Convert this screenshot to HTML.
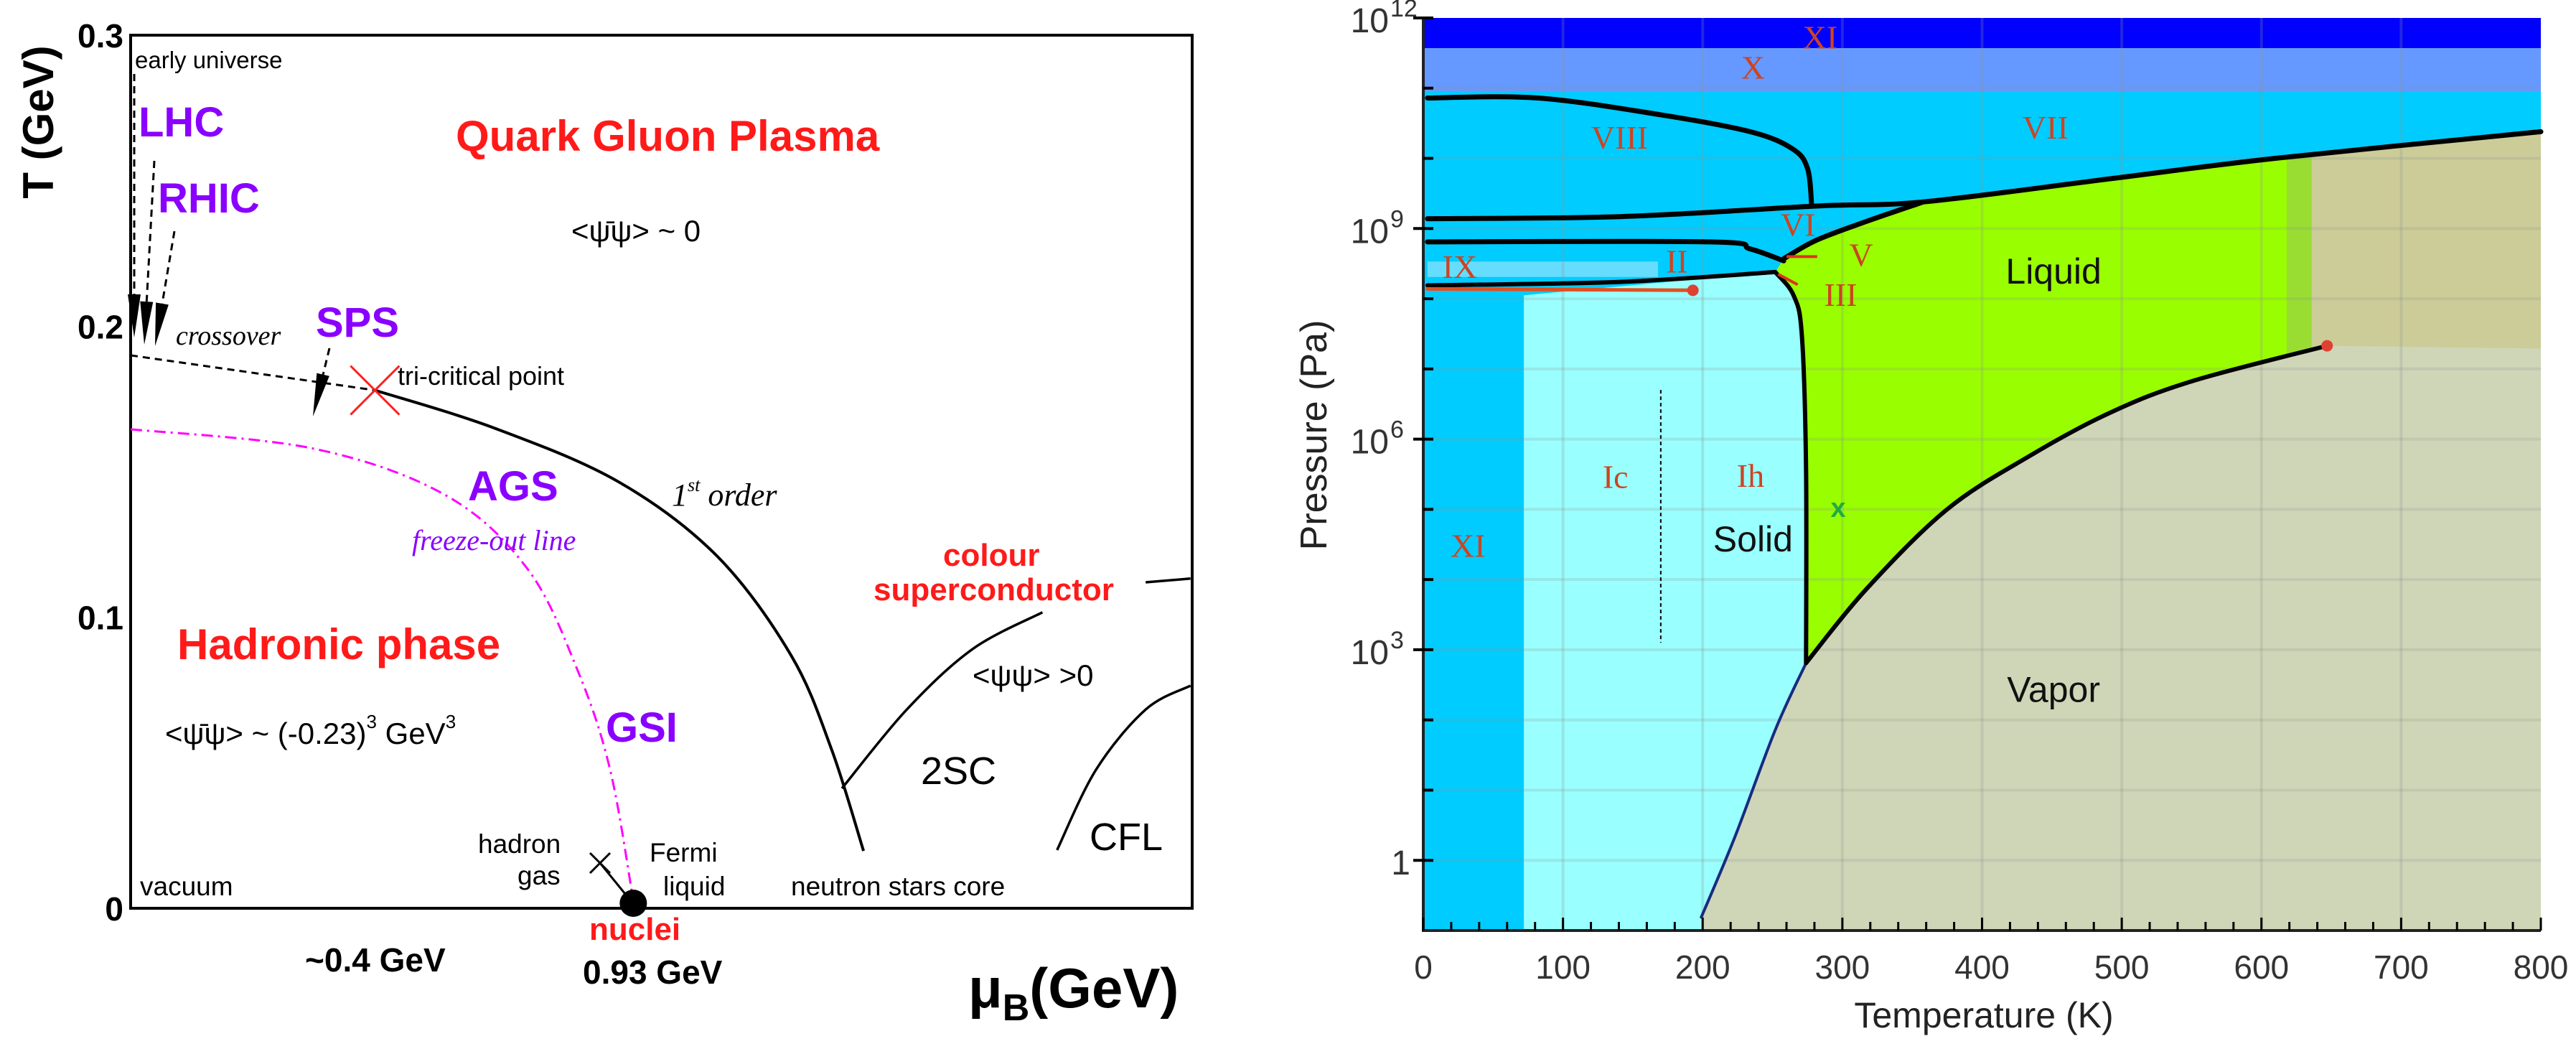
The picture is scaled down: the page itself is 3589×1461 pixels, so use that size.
<!DOCTYPE html>
<html><head><meta charset="utf-8"><style>
html,body{margin:0;padding:0;background:#fff;}
svg{display:block;}
</style></head><body>
<svg id="fig" width="3589" height="1461" viewBox="0 0 3589 1461" xmlns="http://www.w3.org/2000/svg">
<g id="left"></g>
<g id="right"></g>
</svg>
<script>
// ---------- LEFT CHART DATA (mu_B GeV, T GeV) ----------
const crossoverMu = [0.0, 0.452];
const crossoverT = [0.190, 0.178];
const firstOrderMu = [0.452, 0.673, 0.902, 1.085, 1.222, 1.297, 1.356];
const firstOrderT = [0.178, 0.165, 0.1466, 0.121, 0.0869, 0.0545, 0.0197];
const freezeMu = [0.0, 0.337, 0.582, 0.734, 0.826, 0.887, 0.930];
const freezeT = [0.1646, 0.158, 0.142, 0.1167, 0.0822, 0.0477, 0.0027];
const csMu = [1.316, 1.436, 1.558, 1.687];
const csT = [0.0412, 0.0683, 0.0891, 0.1017];
const cs2Mu = [1.878, 1.961];
const cs2T = [0.112, 0.1133];
const cflMu = [1.714, 1.786, 1.878, 1.961];
const cflT = [0.020, 0.0476, 0.0683, 0.0765];
const tTicks = [0, 0.1, 0.2, 0.3];
const tTickLabels = ["0", "0.1", "0.2", "0.3"];

// ---------- RIGHT CHART DATA (T K, log10 P Pa) ----------
const viiiT = [3, 82, 170, 234, 264, 275, 278];
const viiiP = [10.86, 10.86, 10.62, 10.38, 10.14, 9.86, 9.33];
const viiT = [3, 141, 281, 358, 492, 610, 800];
const viiP = [9.14, 9.17, 9.32, 9.38, 9.71, 10.0, 10.38];
const viT = [3, 205, 234, 258];
const viP = [8.81, 8.81, 8.71, 8.54];
const vlT = [258, 281, 317, 358];
const vlP = [8.57, 8.83, 9.10, 9.38];
const iiT = [3, 141, 252];
const iiP = [8.19, 8.24, 8.38];
const meltT = [252, 265, 271, 274, 274];
const meltP = [8.38, 8.05, 7.48, 5.57, 2.81];
const sublT = [199, 223, 252, 274];
const sublP = [-0.81, 0.33, 1.86, 2.81];
const vapT = [274, 317, 375, 434, 492, 551, 647];
const vapP = [2.81, 3.86, 5.0, 5.76, 6.38, 6.83, 7.33];
const ixT = [3, 193];
const ixP = [8.14, 8.12];
const xTicks = [0, 100, 200, 300, 400, 500, 600, 700, 800];
const yTicks = [0, 3, 6, 9, 12];
const yTickLabels = ["1", "10", "10", "10", "10"];
const yTickExps = ["", "3", "6", "9", "12"];

const NS = "http://www.w3.org/2000/svg";
function mk(parent, tag, attrs, text) {
  const e = document.createElementNS(NS, tag);
  for (const k in attrs) e.setAttribute(k, attrs[k]);
  if (text !== undefined) e.textContent = text;
  parent.appendChild(e);
  return e;
}
function smooth(pts) {
  if (pts.length < 3) return "M" + pts.map(p => p[0].toFixed(1) + "," + p[1].toFixed(1)).join(" L");
  let d = "M" + pts[0][0] + "," + pts[0][1];
  for (let i = 0; i < pts.length - 1; i++) {
    const p0 = pts[Math.max(0, i - 1)], p1 = pts[i], p2 = pts[i + 1], p3 = pts[Math.min(pts.length - 1, i + 2)];
    const c1 = [p1[0] + (p2[0] - p0[0]) / 6, p1[1] + (p2[1] - p0[1]) / 6];
    const c2 = [p2[0] - (p3[0] - p1[0]) / 6, p2[1] - (p3[1] - p1[1]) / 6];
    d += " C" + c1[0].toFixed(1) + "," + c1[1].toFixed(1) + " " + c2[0].toFixed(1) + "," + c2[1].toFixed(1) + " " + p2[0].toFixed(1) + "," + p2[1].toFixed(1);
  }
  return d;
}

// ================= LEFT =================
const L = document.getElementById("left");
const LX0 = 182, LX1 = 1661, LY0 = 49, LY1 = 1265;
const MU_MAX = 1.964, T_MAX = 0.3;
const lx = m => LX0 + m / MU_MAX * (LX1 - LX0);
const ly = t => LY1 - t / T_MAX * (LY1 - LY0);
const lpts = (xs, ys) => xs.map((v, i) => [lx(v), ly(ys[i])]);

let e;
e = mk(L, "rect", {x: LX0, y: LY0, width: LX1 - LX0, height: LY1 - LY0, fill: "none", stroke: "#000", "stroke-width": 4});



tTicks.forEach((t, i) => {
  const tl = mk(L, "text", {x: 172, y: ly(t) + 17, "text-anchor": "end", "font-family": "Liberation Sans, sans-serif", "font-weight": "bold", "font-size": 46}, tTickLabels[i]);
  
  
});
e = mk(L, "text", {transform: "translate(74,170) rotate(-90)", "text-anchor": "middle", "font-family": "Liberation Sans, sans-serif", "font-weight": "bold", "font-size": 60}, "T (GeV)");



function dashedArrow(x1, y1, x2, y2, name) {
  const g = mk(L, "g", {});
  
  
  const dx = x2 - x1, dy = y2 - y1, len = Math.hypot(dx, dy), ux = dx / len, uy = dy / len;
  const hx = x2 - ux * 60, hy = y2 - uy * 60;
  mk(g, "line", {x1: x1, y1: y1, x2: hx, y2: hy, stroke: "#000", "stroke-width": 3, "stroke-dasharray": "10,7"});
  mk(g, "polygon", {points: `${x2},${y2} ${hx - uy * 9},${hy + ux * 9} ${hx + uy * 9},${hy - ux * 9}`, fill: "#000"});
}
dashedArrow(187, 103, 187, 470, "early-universe-arrow");
dashedArrow(215, 224, 201, 480, "lhc-arrow");
dashedArrow(243, 322, 216, 482, "rhic-arrow");
dashedArrow(459, 485, 436, 580, "sps-arrow");

e = mk(L, "path", {d: smooth(lpts(crossoverMu, crossoverT)), fill: "none", stroke: "#000", "stroke-width": 3, "stroke-dasharray": "10,7"});


e = mk(L, "path", {d: smooth(lpts(firstOrderMu, firstOrderT)), fill: "none", stroke: "#000", "stroke-width": 4});


e = mk(L, "path", {d: smooth(lpts(freezeMu, freezeT)), fill: "none", stroke: "#ff00ff", "stroke-width": 3, "stroke-dasharray": "16,7,3,7"});


e = mk(L, "path", {d: smooth(lpts(csMu, csT)), fill: "none", stroke: "#000", "stroke-width": 3.5});


e = mk(L, "path", {d: smooth(lpts(cs2Mu, cs2T)), fill: "none", stroke: "#000", "stroke-width": 3.5});


e = mk(L, "path", {d: smooth(lpts(cflMu, cflT)), fill: "none", stroke: "#000", "stroke-width": 3.5});



const tcx = lx(crossoverMu[1]), tcy = ly(crossoverT[1]);
e = mk(L, "path", {d: `M${tcx - 34},${tcy - 34} L${tcx + 34},${tcy + 34} M${tcx - 34},${tcy + 34} L${tcx + 34},${tcy - 34}`, stroke: "#ff2020", "stroke-width": 3});


e = mk(L, "path", {d: "M822,1188 L850,1216 M822,1216 L850,1188 M836,1202 L880,1256", stroke: "#000", "stroke-width": 3});


e = mk(L, "circle", {cx: lx(0.93), cy: 1258, r: 19, fill: "#000"});



function txt(parent, x, y, s, size, color, opts, name) {
  const a = {x: x, y: y, "font-size": size, fill: color, "font-family": "Liberation Sans, sans-serif"};
  Object.assign(a, opts || {});
  const t = mk(parent, "text", a);
  t.innerHTML = s;
  
  
  return t;
}
const B = {"font-weight": "bold"};
const IT = {"font-family": "Liberation Serif, serif", "font-style": "italic"};
const PUR = "#8a00ff", RED = "#ff1a1a";
txt(L, 188, 95, "early universe", 33, "#000", {}, "early-universe-label");
txt(L, 193, 190, "LHC", 58, PUR, B, "lhc-label");
txt(L, 220, 296, "RHIC", 58, PUR, B, "rhic-label");
txt(L, 635, 210, "Quark Gluon Plasma", 60, RED, B, "qgp-label");
txt(L, 796, 336, "&lt;ψ̄ψ&gt; ~ 0", 42, "#000", {}, "qgp-condensate-label");
txt(L, 245, 480, "crossover", 38, "#000", IT, "crossover-label");
txt(L, 440, 469, "SPS", 58, PUR, B, "sps-label");
txt(L, 554, 536, "tri-critical point", 36, "#000", {}, "tri-critical-point-label");
txt(L, 652, 697, "AGS", 58, PUR, B, "ags-label");
txt(L, 936, 704, "1<tspan font-size='26' dy='-20'>st</tspan><tspan dy='20'> order</tspan>", 44, "#000", IT, "first-order-label");
txt(L, 574, 766, "freeze-out line", 40, PUR, IT, "freeze-out-label");
txt(L, 1314, 788, "colour", 44, RED, B, "colour-label");
txt(L, 1217, 836, "superconductor", 44, RED, B, "superconductor-label");
txt(L, 247, 918, "Hadronic phase", 60, RED, B, "hadronic-phase-label");
txt(L, 230, 1036, "&lt;ψ̄ψ&gt; ~ (-0.23)<tspan font-size='26' dy='-22'>3</tspan><tspan dy='22'> GeV</tspan><tspan font-size='26' dy='-22'>3</tspan>", 42, "#000", {}, "hadronic-condensate-label");
txt(L, 1355, 955, "&lt;ψψ&gt; &gt;0", 42, "#000", {}, "cs-condensate-label");
txt(L, 844, 1033, "GSI", 58, PUR, B, "gsi-label");
txt(L, 1283, 1092, "2SC", 54, "#000", {}, "2sc-label");
txt(L, 1518, 1184, "CFL", 54, "#000", {}, "cfl-label");
txt(L, 666, 1188, "hadron", 37, "#000", {}, "hadron-label");
txt(L, 721, 1232, "gas", 37, "#000", {}, "gas-label");
txt(L, 905, 1200, "Fermi", 37, "#000", {}, "fermi-label");
txt(L, 924, 1247, "liquid", 37, "#000", {}, "liquid-label");
txt(L, 195, 1247, "vacuum", 37, "#000", {}, "vacuum-label");
txt(L, 1102, 1247, "neutron stars core", 37, "#000", {}, "neutron-stars-core-label");
txt(L, 821, 1309, "nuclei", 44, RED, B, "nuclei-label");
txt(L, 425, 1353, "~0.4 GeV", 46, "#000", B, "mu-04-label");
txt(L, 812, 1370, "0.93 GeV", 46, "#000", B, "mu-093-label");
txt(L, 1349, 1403, "μ<tspan font-size='52' dy='18'>B</tspan><tspan dy='-18'>(GeV)</tspan>", 78, "#000", B, "x-axis-title");

// ================= RIGHT =================
const R = document.getElementById("right");
const RX0 = 1983, RX1 = 3540, RY0 = 25, RY1 = 1296;
const PMIN = -1, PMAX = 12;
const rx = t => RX0 + t / 800 * (RX1 - RX0);
const ry = p => RY1 - (p - PMIN) / (PMAX - PMIN) * (RY1 - RY0);
const rpts = (xs, ys) => xs.map((v, i) => [rx(v), ry(ys[i])]);
const poly = pts => pts.map(p => p[0].toFixed(1) + "," + p[1].toFixed(1)).join(" ");

function region(pts, color, name) {
  const r = mk(R, "polygon", {points: poly(pts), fill: color});
  
  
}
region([[rx(0), ry(PMIN)], [rx(800), ry(PMIN)], [rx(800), ry(PMAX)], [rx(0), ry(PMAX)]], "#00ccff", "region-background-ice");
region([[rx(0), ry(10.95)], [rx(800), ry(10.95)], [rx(800), ry(11.57)], [rx(0), ry(11.57)]], "#6699ff", "region-ice-x");
region([[rx(0), ry(11.57)], [rx(800), ry(11.57)], [rx(800), ry(PMAX)], [rx(0), ry(PMAX)]], "#0000ff", "region-ice-xi-high");
region([[rx(3), ry(8.31)], [rx(168), ry(8.31)], [rx(168), ry(8.53)], [rx(3), ry(8.53)]], "#66ddff", "region-ice-ix");
region([[rx(72), ry(PMIN)], [rx(274), ry(PMIN)]].concat(rpts(meltT.slice().reverse(), meltP.slice().reverse())).concat([[rx(72), ry(8.05)]]), "#99ffff", "region-ice-ih");
region(rpts(meltT, meltP).reverse().concat(rpts(vlT, vlP)).concat(rpts(viiT.slice(4), viiP.slice(4))).concat([[rx(800), ry(7.29)]]).concat(rpts(vapT.slice().reverse(), vapP.slice().reverse())), "#99ff00", "region-liquid");
region([[rx(618), ry(7.2)], [rx(636), ry(7.2)], [rx(636), ry(10.05)], [rx(618), ry(10.0)]], "#99dd33", "region-liquid-edge");
region([[rx(636), ry(7.29)], [rx(800), ry(7.29)], [rx(800), ry(10.38)], [rx(636), ry(10.05)]], "#cccc99", "region-supercritical");
region([[rx(sublT[0]), ry(PMIN)]].concat(rpts(sublT, sublP)).concat(rpts(vapT, vapP)).concat([[rx(800), ry(7.29)], [rx(800), ry(PMIN)]]), "#cfd6b8", "region-vapor");

for (let t = 100; t < 800; t += 100) {
  e = mk(R, "line", {x1: rx(t), y1: RY0, x2: rx(t), y2: RY1, stroke: "rgba(140,150,140,0.25)", "stroke-width": 4});
  
  
}
for (let p = 0; p < 12; p++) {
  e = mk(R, "line", {x1: RX0, y1: ry(p), x2: RX1, y2: ry(p), stroke: "rgba(140,150,140,0.22)", "stroke-width": 4});
  
  
}

function curve(xs, ys, color, w, name) {
  const c = mk(R, "path", {d: smooth(rpts(xs, ys)), fill: "none", stroke: color, "stroke-width": w, "stroke-linecap": "round"});
  
  
}
curve(viiiT, viiiP, "#000", 7, "viii-boundary");
curve(viiT, viiP, "#000", 7, "vii-boundary");
curve(viT, viP, "#000", 7, "vi-boundary");
curve(vlT, vlP, "#000", 7, "vi-liquid-boundary");
curve(iiT, iiP, "#000", 6, "ii-iii-boundary");
curve(meltT, meltP, "#000", 6, "melting-curve");
curve(sublT, sublP, "#1a2a80", 4, "sublimation-curve");
curve(vapT, vapP, "#000", 6, "vaporization-curve");
curve(ixT, ixP, "#e05020", 5, "ix-boundary");
e = mk(R, "circle", {cx: rx(ixT[1]), cy: ry(ixP[1]), r: 8, fill: "#e04030"});


e = mk(R, "circle", {cx: rx(vapT[6]), cy: ry(vapP[6]), r: 8, fill: "#e04030"});


e = mk(R, "line", {x1: rx(170), y1: ry(6.7), x2: rx(170), y2: ry(3.1), stroke: "#000", "stroke-width": 2, "stroke-dasharray": "5,4"});


e = mk(R, "path", {d: `M${rx(282)},${ry(8.6)} L${rx(260)},${ry(8.6)} M${rx(268)},${ry(8.2)} L${rx(254)},${ry(8.35)}`, stroke: "#dd3322", "stroke-width": 4});



e = mk(R, "path", {d: `M${RX0},${RY0} L${RX0},${RY1} L${RX1},${RY1}`, fill: "none", stroke: "#222", "stroke-width": 4});


for (let t = 0; t <= 800; t += 20) {
  e = mk(R, "line", {x1: rx(t), y1: RY1, x2: rx(t), y2: RY1 - (t % 100 ? 12 : 18), stroke: "#000", "stroke-width": 3});
  
  
}
for (let p = 0; p <= 12; p++) {
  e = mk(R, "line", {x1: RX0 - (p % 3 ? 0 : 14), y1: ry(p), x2: RX0 + 14, y2: ry(p), stroke: "#000", "stroke-width": 4});
  
  
}
xTicks.forEach(t => {
  const tl = mk(R, "text", {x: rx(t), y: 1363, "text-anchor": "middle", "font-family": "Liberation Sans, sans-serif", "font-size": 46, fill: "#333"}, String(t));
  
  
});
yTicks.forEach((p, i) => {
  const tl = mk(R, "text", {x: yTickExps[i] ? 1935 : 1965, y: ry(p) + 20, "text-anchor": "end", "font-family": "Liberation Sans, sans-serif", "font-size": 48, fill: "#333"});
  tl.textContent = yTickLabels[i];
  
  
  if (yTickExps[i]) {
    const sup = mk(R, "text", {x: 1937, y: ry(p) - 2, "font-family": "Liberation Sans, sans-serif", "font-size": 34, fill: "#333"}, yTickExps[i]);
    
    
  }
});
e = mk(R, "text", {x: 2764, y: 1431, "text-anchor": "middle", "font-family": "Liberation Sans, sans-serif", "font-size": 50, fill: "#222"}, "Temperature (K)");


e = mk(R, "text", {transform: "translate(1848,606) rotate(-90)", "text-anchor": "middle", "font-family": "Liberation Sans, sans-serif", "font-size": 52, fill: "#222"}, "Pressure (Pa)");



const SER = {"font-family": "Liberation Serif, serif", "text-anchor": "middle"};
const RC = "#cc4422";
function rlab(zx, zy, s, size, color, opts, name) {
  const a = Object.assign({}, opts);
  return txt(R, 1800 + zx * 1.141, zy * 0.932 + size * 0.35, s, size, color, a, name);
}
rlab(645, 55, "XI", 46, RC, SER, "ice-xi-high-label");
rlab(563, 100, "X", 46, RC, SER, "ice-x-label");
rlab(400, 205, "VIII", 46, RC, SER, "ice-viii-label");
rlab(920, 190, "VII", 46, RC, SER, "ice-vii-label");
rlab(618, 335, "VI", 46, RC, SER, "ice-vi-label");
rlab(695, 380, "V", 46, RC, SER, "ice-v-label");
rlab(670, 440, "III", 46, RC, SER, "ice-iii-label");
rlab(205, 398, "IX", 46, RC, SER, "ice-ix-label");
rlab(470, 390, "II", 46, RC, SER, "ice-ii-label");
rlab(395, 712, "Ic", 46, RC, SER, "ice-ic-label");
rlab(560, 710, "Ih", 46, RC, SER, "ice-ih-label");
rlab(215, 815, "XI", 46, RC, SER, "ice-xi-label");
const SAN = {"text-anchor": "middle"};
rlab(930, 405, "Liquid", 50, "#111", SAN, "liquid-label");
rlab(563, 805, "Solid", 50, "#111", SAN, "solid-label");
rlab(930, 1030, "Vapor", 50, "#111", SAN, "vapor-label");
rlab(667, 758, "x", 38, "#22aa44", Object.assign({"font-weight": "bold"}, SAN), "triple-point-marker");
</script>
</body></html>
